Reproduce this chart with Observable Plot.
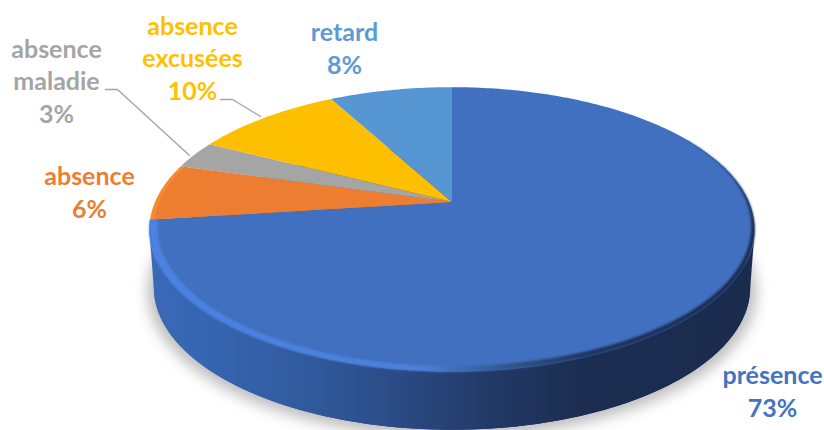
<!DOCTYPE html>
<html><head><meta charset="utf-8">
<script src="https://cdn.jsdelivr.net/npm/d3@7"></script>
<script src="https://cdn.jsdelivr.net/npm/@observablehq/plot@0.6"></script>
<style>
html,body{margin:0;padding:0;background:#fff;}
svg{display:block;}
.soft{filter:blur(1.3px);}
.shadow{filter:blur(7px);}
</style></head><body>
<div id="chart"></div>
<script>
const names = ["présence","absence","absence\nmaladie","absence\nexcusées","retard"];
const shares = [73,6.4,3.2,9.5,7.9];
const colors = ["#4070bf","#ec7d31","#a5a5a5","#fdbf00","#5596d3"];
const labelColors = ["#4472c4","#ed7d31","#a5a5a5","#ffc000","#5b9bd5"];
const labelX = [772,89,56,192,344];
const labelY = [416,217,122,99,73];
const leaders = [
  {id:"maladie",x:[105,117,189],y:[89,89,155]},
  {id:"excusees",x:[220,232,260],y:[99,99,116]}
];

// tilted-disc view of the pie
const cx=452, cy=202, A=297, B=137, k=0.193, depth=58, shrink=0.985;
const toXY=(t,r=1,drop=0,sc=1)=>{
  const a=t*2*Math.PI, u=r*Math.sin(a), v=r*Math.cos(a), w=1+k*v;
  return [cx+sc*A*u/w, cy-B*v/w+drop];
};
const arc=(t0,t1,r=1,drop=0,sc=1)=>{
  const n=Math.max(2,Math.ceil((t1-t0)*400)), o=[];
  for(let i=0;i<=n;i++){const t=t0+(t1-t0)*i/n; o.push(toXY(t,r,drop,sc));}
  return o;
};
const total=d3.sum(shares);
let acc=0;
const spans=shares.map(s=>{const a=acc/total; acc+=s; return [a,acc/total];});

const sliceMark=(t0,t1,fill,r=1,opts={})=>Plot.area(arc(t0,t1,r),{
  x1:()=>cx,y1:()=>cy,x2:d=>d[0],y2:d=>d[1],fill,...opts});
const discMark=(r,drop,sc,fill,opts={})=>Plot.area(arc(0,1,r,drop,sc),{
  x1:()=>cx,y1:()=>cy+drop+28,x2:d=>d[0],y2:d=>d[1],fill,...opts});

// side wall: front half between upper rim and lower rim
const wallFrom=0.282, wallTo=0.718;
const upperRim=arc(wallFrom,wallTo), lowerRim=arc(wallFrom,wallTo,1,depth,shrink);
const wall=upperRim.map((p,i)=>({x1:p[0],y1:p[1],x2:lowerRim[i][0],y2:lowerRim[i][1]}));

// highlight band along the front of the first slice
const bandStart=0.16, bandEnd=spans[0][1];
const band=arc(bandStart,bandEnd).map((p,i,all)=>{
  const t=bandStart+(bandEnd-bandStart)*i/(all.length-1);
  const inset=0.027*Math.min(1,(t-bandStart)/0.3);
  const q=toXY(t,1-inset);
  return {x1:p[0],y1:p[1],x2:q[0],y2:q[1]};
});

const defs=()=>{
  const d=d3.create("svg:defs");
  const grad=(id,stops)=>{
    const g=d.append("linearGradient").attr("id",id).attr("gradientUnits","userSpaceOnUse")
      .attr("x1",148).attr("x2",755).attr("y1",0).attr("y2",0);
    stops.forEach(([o,c])=>g.append("stop").attr("offset",o).attr("stop-color",c));
  };
  grad("wallGrad",[[0,"#3a6ab8"],[0.12,"#3564ae"],[0.25,"#315b9f"],[0.38,"#2c4e8a"],[0.55,"#233b69"],[0.72,"#1b2d50"],[1,"#1a2b4e"]]);
  grad("rimGrad",[[0,"#4c82e2"],[0.45,"#4c80da"],[0.58,"#33588f"],[0.72,"#1e3560"],[1,"#1a2c50"]]);
  return d.node();
};

const plot=Plot.plot({
  width:824,height:430,margin:0,
  style:{background:"#fff"},
  x:{domain:[0,824],range:[0,824],axis:null},
  y:{domain:[0,430],range:[0,430],axis:null},
  marks:[
    defs,
    discMark(1.02,depth+3,shrink,"#999",{className:"shadow",fillOpacity:0.65}),
    discMark(1,depth,shrink,"url(#wallGrad)"),
    Plot.area(wall,{x1:"x1",y1:"y1",x2:"x2",y2:"y2",fill:"url(#wallGrad)"}),
    sliceMark(spans[0][0],spans[0][1],colors[0]),
    Plot.area(band,{x1:"x1",y1:"y1",x2:"x2",y2:"y2",fill:"url(#rimGrad)",className:"soft"}),
    sliceMark(spans[1][0],spans[1][1],"#f58a30"),
    sliceMark(spans[1][0],spans[1][1],colors[1],0.985),
    ...[2,3,4].map(i=>sliceMark(spans[i][0],spans[i][1],colors[i])),
    ...leaders.map(l=>Plot.line(l.x.map((x,i)=>[x,l.y[i]]),{x:d=>d[0],y:d=>d[1],stroke:"#a5a5a5",strokeWidth:1.4})),
    Plot.text(names.map((n,i)=>({t:n+"\n"+Math.round(shares[i])+"%",x:labelX[i],y:labelY[i],c:labelColors[i]})),{
      x:"x",y:"y",text:"t",fill:d=>d.c,fontFamily:"Lato",fontWeight:700,fontSize:25,
      lineHeight:1.3,textAnchor:"middle",lineAnchor:"bottom"
    })
  ]
});
document.getElementById("chart").append(plot);
</script></body></html>
